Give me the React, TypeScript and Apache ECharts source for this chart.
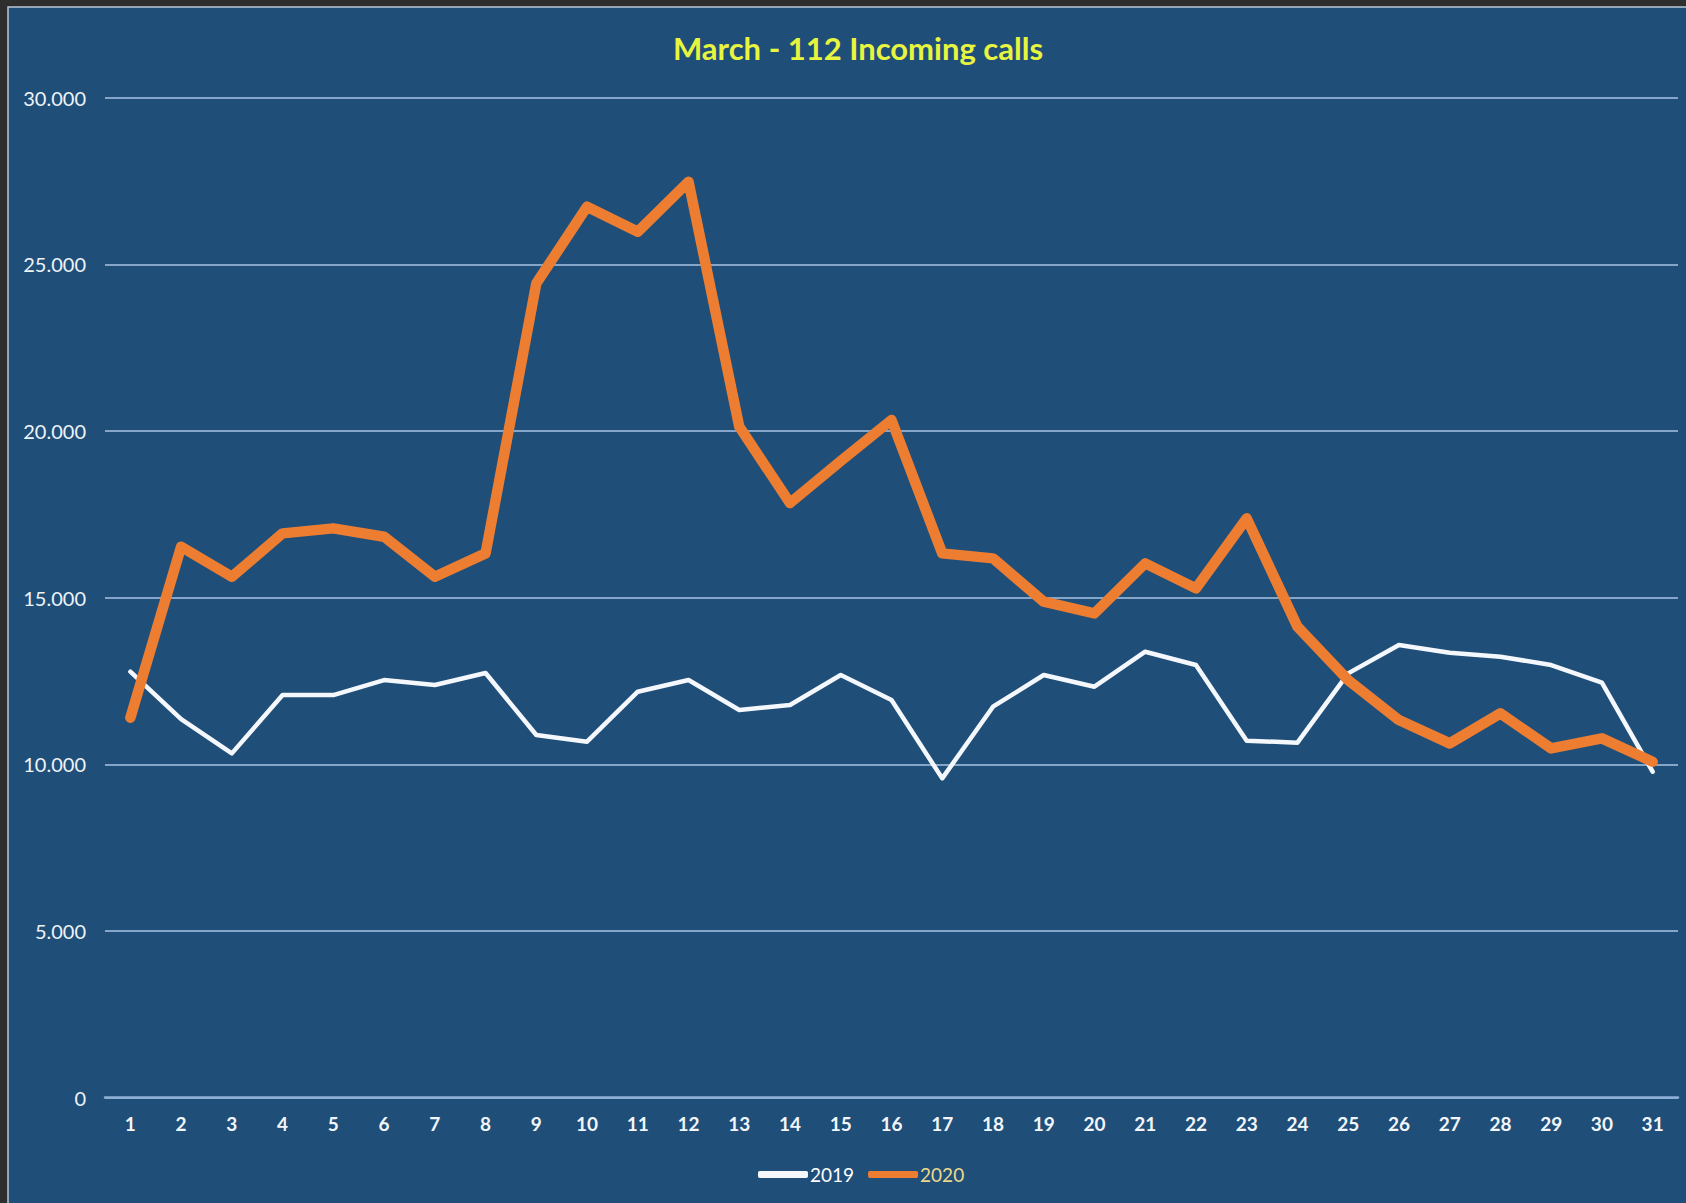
import React, { useEffect, useRef } from "react";
import * as echarts from "echarts";

const days = Array.from({ length: 31 }, (_, i) => String(i + 1));

const calls2019 = [
  12780, 11360, 10330, 12080, 12080, 12530, 12380, 12740, 10880, 10680,
  12180, 12530, 11630, 11780, 12680, 11930, 9580, 11730, 12680, 12330,
  13380, 12980, 10710, 10650, 12730, 13580, 13350, 13230, 12980, 12450,
  9780,
];

const calls2020 = [
  11400, 16530, 15630, 16930, 17080, 16830, 15630, 16330, 24430, 26730,
  25980, 27480, 20130, 17840, 19100, 20330, 16330, 16180, 14880, 14530,
  16030, 15280, 17380, 14130, 12530, 11330, 10630, 11530, 10480, 10780,
  10080,
];

const titleText = "March - 112 Incoming calls";

export default function App() {
  const ref = useRef<HTMLDivElement>(null);

  useEffect(() => {
    document.body.style.margin = "0";
    document.body.style.background = "#2e2e2e";
    const chart = echarts.init(ref.current!, null, { renderer: "svg" });
    chart.setOption({
      animation: false,
      backgroundColor: "#2e2e2e",
      graphic: [
        {
          type: "rect",
          z: -10,
          shape: { x: 8, y: 7, width: 1700, height: 1220 },
          style: { fill: "#1f4e79", stroke: "#b9c7d6", lineWidth: 1.5 },
        },
      ],
      title: {
        text: titleText,
        left: 853,
        top: 27,
        textAlign: "center",
        textStyle: {
          color: "#e8f53f",
          fontFamily: "Lato",
          fontWeight: "bold",
          fontSize: 31,
        },
      },
      grid: { left: 105, right: 8, top: 97.7, bottom: 105.3, containLabel: false },
      legend: {
        left: 753,
        top: 1160,
        itemWidth: 50,
        itemHeight: 7,
        itemGap: 14,
        icon: "roundRect",
        data: [
          { name: "2019", textStyle: { color: "#ffffff" } },
          { name: "2020", textStyle: { color: "#ecd98c" } },
        ],
        textStyle: { fontFamily: "Lato", fontSize: 19, padding: [0, 0, 0, -3] },
      },
      xAxis: {
        type: "category",
        data: days,
        boundaryGap: true,
        axisLine: { lineStyle: { color: "#8fb0d6", width: 2.5 } },
        axisTick: { show: false },
        axisLabel: {
          color: "#f2f6fa",
          fontFamily: "Lato",
          fontWeight: "bold",
          fontSize: 19,
          margin: 16,
          interval: 0,
        },
      },
      yAxis: {
        type: "value",
        min: 0,
        max: 30000,
        interval: 5000,
        axisLine: { show: false },
        axisTick: { show: false },
        splitLine: { lineStyle: { color: "#a9c4e4", width: 1.5 } },
        axisLabel: {
          color: "#eef3f8",
          fontFamily: "Lato",
          fontSize: 20,
          margin: 19,
          formatter: (v: number) => v.toLocaleString("de-DE"),
        },
      },
      series: [
        {
          name: "2019",
          type: "line",
          data: calls2019,
          symbol: "none",
          lineStyle: { color: "#f4f8fc", width: 4.5, join: "round", cap: "round" },
          itemStyle: { color: "#f4f8fc" },
        },
        {
          name: "2020",
          type: "line",
          data: calls2020,
          symbol: "none",
          lineStyle: { color: "#ed7d31", width: 10.5, join: "round", cap: "round" },
          itemStyle: { color: "#ed7d31" },
        },
      ],
    });
    return () => chart.dispose();
  }, []);

  return <div ref={ref} style={{ width: 1686, height: 1203 }} />;
}
